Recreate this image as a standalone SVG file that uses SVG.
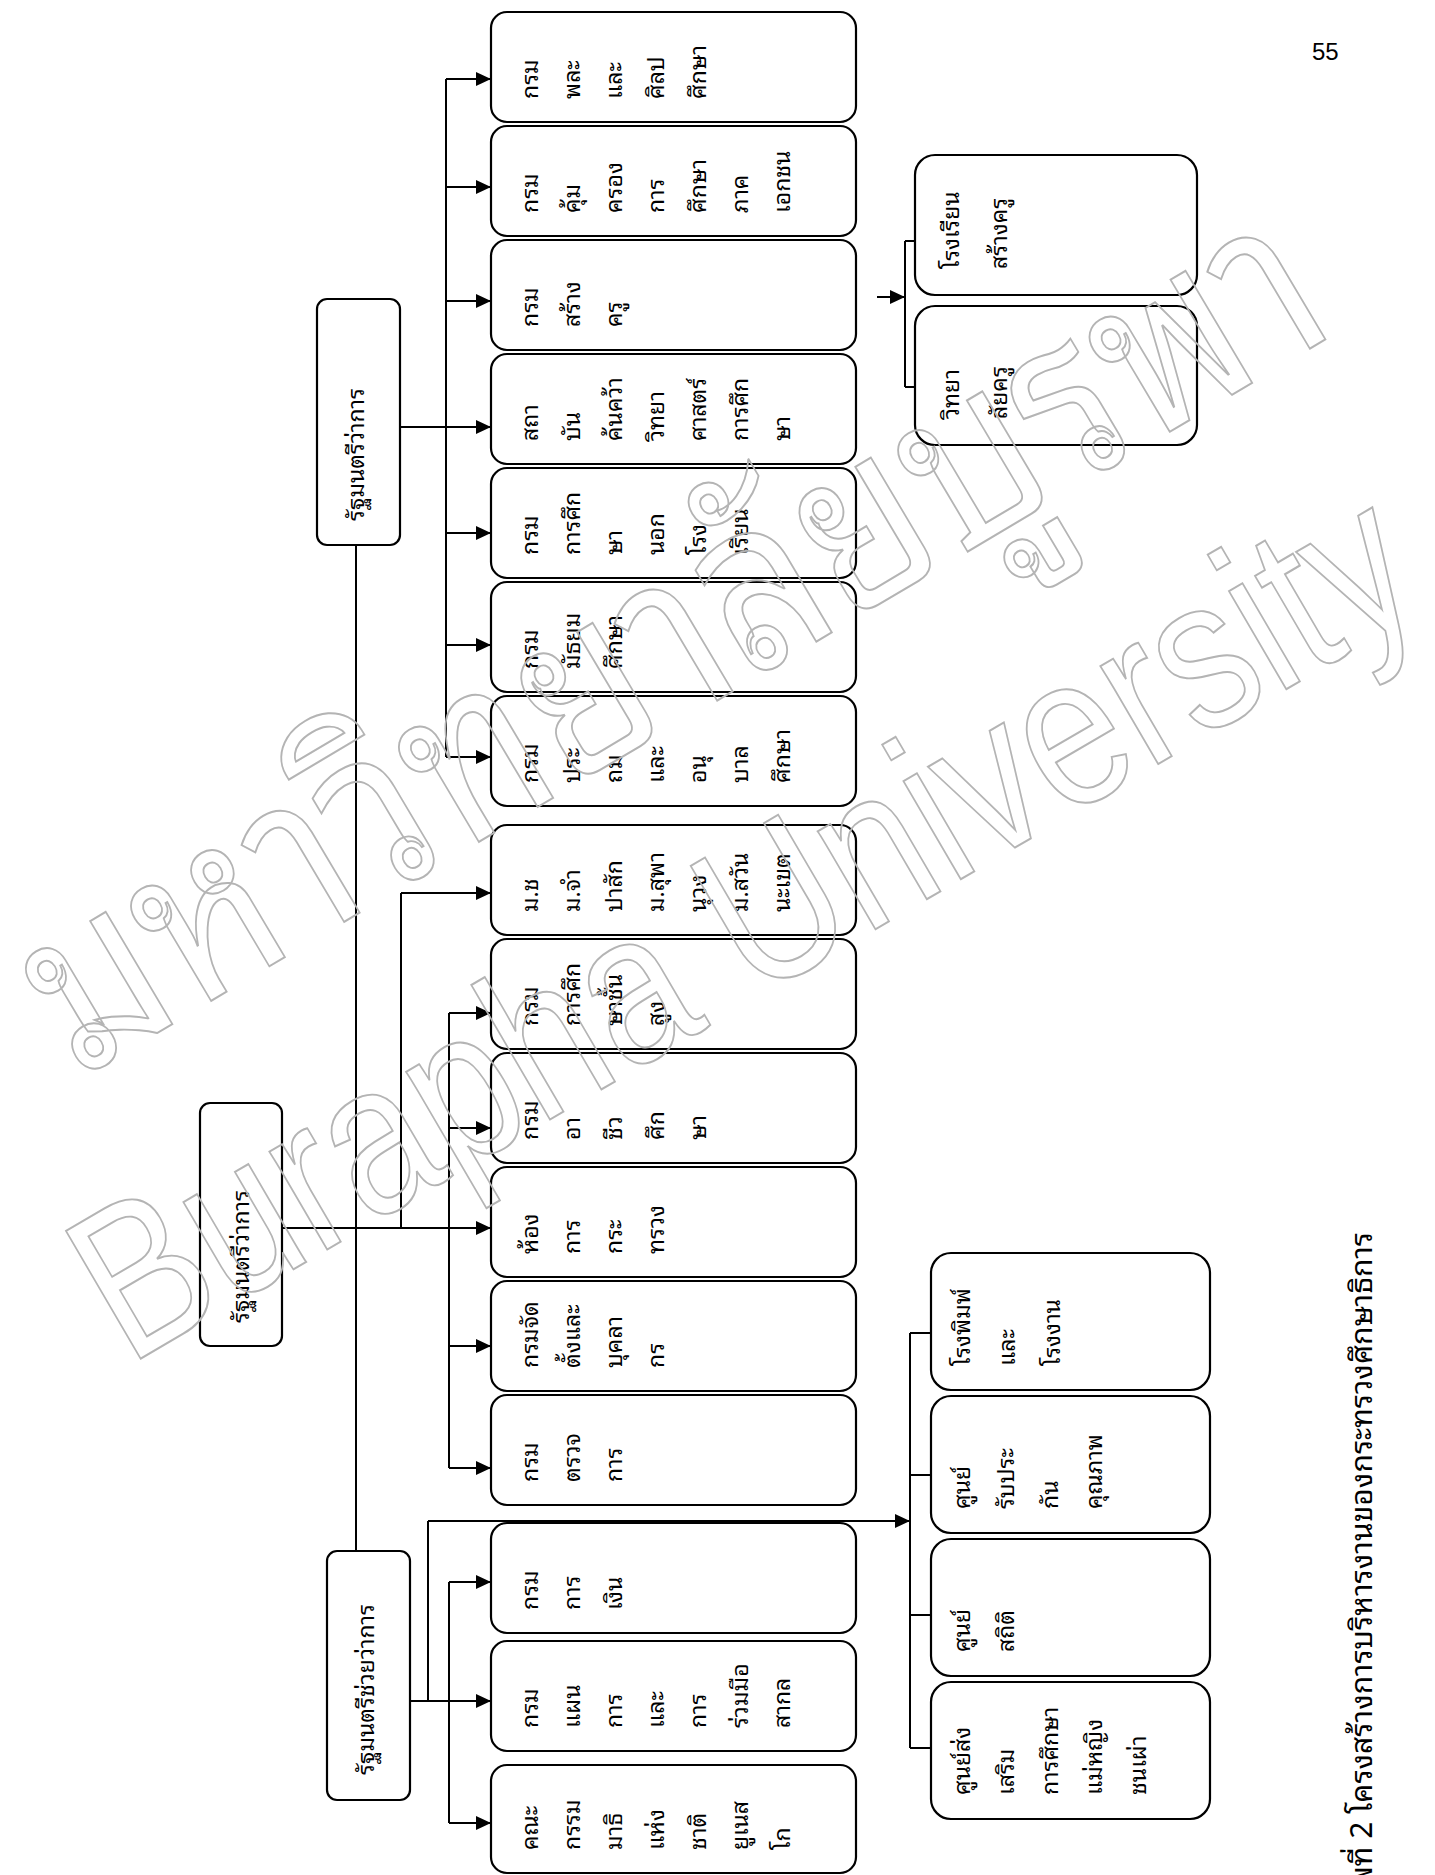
<svg xmlns="http://www.w3.org/2000/svg" width="1435" height="1875" viewBox="0 0 1435 1875">
<style>
.bg{fill:#fff}
.box{fill:#fff;stroke:#000;stroke-width:2.2}
.t{font-family:"Noto Sans Thai Looped","Noto Serif Thai","Noto Sans Thai","Loma","Garuda","Noto Sans",sans-serif;font-size:23px;fill:#000}
.cap{font-family:"Noto Sans Thai Looped","Noto Serif Thai","Noto Sans Thai","Loma","Garuda","Noto Sans",sans-serif;font-size:30px;fill:#000}
.pg{font-family:"Liberation Sans",Arial,sans-serif;font-size:24px;fill:#000}
.ln{stroke:#000;stroke-width:2;fill:none}
.ar{stroke:#000;stroke-width:2;fill:none;marker-end:url(#ah)}
.wm{fill:none;stroke:#b4b4b4;stroke-width:2}
.wme{font-family:"Liberation Sans",Arial,sans-serif;font-size:215px}
.wmt{font-family:"Noto Sans Thai Looped","Noto Serif Thai","Noto Sans Thai","Loma","Garuda","Noto Sans",sans-serif;font-size:235px}
</style>
<defs>
<marker id="ah" markerUnits="userSpaceOnUse" markerWidth="16" markerHeight="14" refX="15" refY="7" orient="auto">
<path d="M0,0 L15,7 L0,14 z" fill="#000"/>
</marker>
</defs>
<rect class="bg" x="0" y="0" width="1435" height="1875"/>

<g id="connectors">
<line class="ln" x1="356" y1="545" x2="356" y2="1551"/>
<line class="ar" x1="400" y1="427" x2="491" y2="427"/>
<line class="ln" x1="446" y1="79" x2="446" y2="757"/>
<line class="ar" x1="446" y1="79" x2="491" y2="79"/>
<line class="ar" x1="446" y1="187" x2="491" y2="187"/>
<line class="ar" x1="446" y1="301" x2="491" y2="301"/>
<line class="ar" x1="446" y1="533" x2="491" y2="533"/>
<line class="ar" x1="446" y1="645" x2="491" y2="645"/>
<line class="ar" x1="446" y1="757" x2="491" y2="757"/>
<line class="ar" x1="282" y1="1228" x2="491" y2="1228"/>
<line class="ln" x1="401" y1="893" x2="401" y2="1228"/>
<line class="ar" x1="401" y1="893" x2="491" y2="893"/>
<line class="ln" x1="449" y1="1013" x2="449" y2="1468"/>
<line class="ar" x1="449" y1="1013" x2="491" y2="1013"/>
<line class="ar" x1="449" y1="1128" x2="491" y2="1128"/>
<line class="ar" x1="449" y1="1346" x2="491" y2="1346"/>
<line class="ar" x1="449" y1="1468" x2="491" y2="1468"/>
<line class="ar" x1="410" y1="1701" x2="491" y2="1701"/>
<line class="ln" x1="428" y1="1521" x2="428" y2="1701"/>
<line class="ar" x1="428" y1="1521" x2="910" y2="1521"/>
<line class="ln" x1="449" y1="1582" x2="449" y2="1823"/>
<line class="ar" x1="449" y1="1582" x2="491" y2="1582"/>
<line class="ar" x1="449" y1="1823" x2="491" y2="1823"/>
<line class="ln" x1="910" y1="1333" x2="910" y2="1748"/>
<line class="ar" x1="910" y1="1333" x2="948" y2="1333"/>
<line class="ar" x1="910" y1="1475" x2="948" y2="1475"/>
<line class="ar" x1="910" y1="1615" x2="948" y2="1615"/>
<line class="ar" x1="910" y1="1748" x2="948" y2="1748"/>
<line class="ar" x1="877" y1="297" x2="905" y2="297"/>
<line class="ln" x1="905" y1="241" x2="905" y2="387"/>
<line class="ar" x1="905" y1="241" x2="937" y2="241"/>
<line class="ar" x1="905" y1="387" x2="937" y2="387"/>
</g>

<g id="m-top"><rect class="box" x="317" y="299" width="83" height="246" rx="10"/>
<text class="t" transform="translate(364,521) rotate(-90)">รัฐมนตรีว่าการ</text></g>
<g id="m-mid"><rect class="box" x="200" y="1103" width="82" height="243" rx="10"/>
<text class="t" transform="translate(249,1323) rotate(-90)">รัฐมนตรีว่าการ</text></g>
<g id="m-vice"><rect class="box" x="327" y="1551" width="83" height="249" rx="10"/>
<text class="t" transform="translate(374,1775) rotate(-90)">รัฐมนตรีช่วยว่าการ</text></g>

<g id="n1"><rect class="box" x="491" y="12" width="365" height="110" rx="16"/>
<text class="t" transform="translate(538,99) rotate(-90)">กรม</text>
<text class="t" transform="translate(580,99) rotate(-90)">พละ</text>
<text class="t" transform="translate(622,99) rotate(-90)">และ</text>
<text class="t" transform="translate(664,99) rotate(-90)">ศิลป</text>
<text class="t" transform="translate(706,99) rotate(-90)">ศึกษา</text></g>
<g id="n2"><rect class="box" x="491" y="126" width="365" height="110" rx="16"/>
<text class="t" transform="translate(538,213) rotate(-90)">กรม</text>
<text class="t" transform="translate(580,213) rotate(-90)">คุ้ม</text>
<text class="t" transform="translate(622,213) rotate(-90)">ครอง</text>
<text class="t" transform="translate(664,213) rotate(-90)">การ</text>
<text class="t" transform="translate(706,213) rotate(-90)">ศึกษา</text>
<text class="t" transform="translate(748,213) rotate(-90)">ภาค</text>
<text class="t" transform="translate(790,213) rotate(-90)">เอกชน</text></g>
<g id="n3"><rect class="box" x="491" y="240" width="365" height="110" rx="16"/>
<text class="t" transform="translate(538,327) rotate(-90)">กรม</text>
<text class="t" transform="translate(580,327) rotate(-90)">สร้าง</text>
<text class="t" transform="translate(622,327) rotate(-90)">ครู</text></g>
<g id="n4"><rect class="box" x="491" y="354" width="365" height="110" rx="16"/>
<text class="t" transform="translate(538,441) rotate(-90)">สถา</text>
<text class="t" transform="translate(580,441) rotate(-90)">บัน</text>
<text class="t" transform="translate(622,441) rotate(-90)">ค้นคว้า</text>
<text class="t" transform="translate(664,441) rotate(-90)">วิทยา</text>
<text class="t" transform="translate(706,441) rotate(-90)">ศาสตร์</text>
<text class="t" transform="translate(748,441) rotate(-90)">การศึก</text>
<text class="t" transform="translate(790,441) rotate(-90)">ษา</text></g>
<g id="n5"><rect class="box" x="491" y="468" width="365" height="110" rx="16"/>
<text class="t" transform="translate(538,555) rotate(-90)">กรม</text>
<text class="t" transform="translate(580,555) rotate(-90)">การศึก</text>
<text class="t" transform="translate(622,555) rotate(-90)">ษา</text>
<text class="t" transform="translate(664,555) rotate(-90)">นอก</text>
<text class="t" transform="translate(706,555) rotate(-90)">โรง</text>
<text class="t" transform="translate(748,555) rotate(-90)">เรียน</text></g>
<g id="n6"><rect class="box" x="491" y="582" width="365" height="110" rx="16"/>
<text class="t" transform="translate(538,669) rotate(-90)">กรม</text>
<text class="t" transform="translate(580,669) rotate(-90)">มัธยม</text>
<text class="t" transform="translate(622,669) rotate(-90)">ศึกษา</text></g>
<g id="n7"><rect class="box" x="491" y="696" width="365" height="110" rx="16"/>
<text class="t" transform="translate(538,783) rotate(-90)">กรม</text>
<text class="t" transform="translate(580,783) rotate(-90)">ประ</text>
<text class="t" transform="translate(622,783) rotate(-90)">ถม</text>
<text class="t" transform="translate(664,783) rotate(-90)">และ</text>
<text class="t" transform="translate(706,783) rotate(-90)">อนุ</text>
<text class="t" transform="translate(748,783) rotate(-90)">บาล</text>
<text class="t" transform="translate(790,783) rotate(-90)">ศึกษา</text></g>

<g id="n8"><rect class="box" x="491" y="825" width="365" height="110" rx="16"/>
<text class="t" transform="translate(538,912) rotate(-90)">ม.ช</text>
<text class="t" transform="translate(580,912) rotate(-90)">ม.จำ</text>
<text class="t" transform="translate(622,912) rotate(-90)">ปาสัก</text>
<text class="t" transform="translate(664,912) rotate(-90)">ม.สุพา</text>
<text class="t" transform="translate(706,912) rotate(-90)">นุวง</text>
<text class="t" transform="translate(748,912) rotate(-90)">ม.สวัน</text>
<text class="t" transform="translate(790,912) rotate(-90)">นะเขต</text></g>
<g id="n9"><rect class="box" x="491" y="939" width="365" height="110" rx="16"/>
<text class="t" transform="translate(538,1026) rotate(-90)">กรม</text>
<text class="t" transform="translate(580,1026) rotate(-90)">การศึก</text>
<text class="t" transform="translate(622,1026) rotate(-90)">ษาชั้น</text>
<text class="t" transform="translate(664,1026) rotate(-90)">สูง</text></g>
<g id="n10"><rect class="box" x="491" y="1053" width="365" height="110" rx="16"/>
<text class="t" transform="translate(538,1140) rotate(-90)">กรม</text>
<text class="t" transform="translate(580,1140) rotate(-90)">อา</text>
<text class="t" transform="translate(622,1140) rotate(-90)">ชีว</text>
<text class="t" transform="translate(664,1140) rotate(-90)">ศึก</text>
<text class="t" transform="translate(706,1140) rotate(-90)">ษา</text></g>
<g id="n11"><rect class="box" x="491" y="1167" width="365" height="110" rx="16"/>
<text class="t" transform="translate(538,1254) rotate(-90)">ห้อง</text>
<text class="t" transform="translate(580,1254) rotate(-90)">การ</text>
<text class="t" transform="translate(622,1254) rotate(-90)">กระ</text>
<text class="t" transform="translate(664,1254) rotate(-90)">ทรวง</text></g>
<g id="n12"><rect class="box" x="491" y="1281" width="365" height="110" rx="16"/>
<text class="t" transform="translate(538,1368) rotate(-90)">กรมจัด</text>
<text class="t" transform="translate(580,1368) rotate(-90)">ตั้งและ</text>
<text class="t" transform="translate(622,1368) rotate(-90)">บุคลา</text>
<text class="t" transform="translate(664,1368) rotate(-90)">กร</text></g>
<g id="n13"><rect class="box" x="491" y="1395" width="365" height="110" rx="16"/>
<text class="t" transform="translate(538,1482) rotate(-90)">กรม</text>
<text class="t" transform="translate(580,1482) rotate(-90)">ตรวจ</text>
<text class="t" transform="translate(622,1482) rotate(-90)">การ</text></g>

<g id="n14"><rect class="box" x="491" y="1523" width="365" height="110" rx="16"/>
<text class="t" transform="translate(538,1610) rotate(-90)">กรม</text>
<text class="t" transform="translate(580,1610) rotate(-90)">การ</text>
<text class="t" transform="translate(622,1610) rotate(-90)">เงิน</text></g>
<g id="n15"><rect class="box" x="491" y="1641" width="365" height="110" rx="16"/>
<text class="t" transform="translate(538,1728) rotate(-90)">กรม</text>
<text class="t" transform="translate(580,1728) rotate(-90)">แผน</text>
<text class="t" transform="translate(622,1728) rotate(-90)">การ</text>
<text class="t" transform="translate(664,1728) rotate(-90)">และ</text>
<text class="t" transform="translate(706,1728) rotate(-90)">การ</text>
<text class="t" transform="translate(748,1728) rotate(-90)">ร่วมมือ</text>
<text class="t" transform="translate(790,1728) rotate(-90)">สากล</text></g>
<g id="n16"><rect class="box" x="491" y="1765" width="365" height="108" rx="16"/>
<text class="t" transform="translate(538,1850) rotate(-90)">คณะ</text>
<text class="t" transform="translate(580,1850) rotate(-90)">กรรม</text>
<text class="t" transform="translate(622,1850) rotate(-90)">มาธิ</text>
<text class="t" transform="translate(664,1850) rotate(-90)">แห่ง</text>
<text class="t" transform="translate(706,1850) rotate(-90)">ชาติ</text>
<text class="t" transform="translate(748,1850) rotate(-90)">ยูเนส</text>
<text class="t" transform="translate(790,1850) rotate(-90)">โก</text></g>

<g id="b1"><rect class="box" x="931" y="1253" width="279" height="137" rx="20"/>
<text class="t" transform="translate(970,1366) rotate(-90)">โรงพิมพ์</text>
<text class="t" transform="translate(1015,1366) rotate(-90)">และ</text>
<text class="t" transform="translate(1060,1366) rotate(-90)">โรงงาน</text></g>
<g id="b2"><rect class="box" x="931" y="1396" width="279" height="137" rx="20"/>
<text class="t" transform="translate(970,1509) rotate(-90)">ศูนย์</text>
<text class="t" transform="translate(1014,1509) rotate(-90)">รับประ</text>
<text class="t" transform="translate(1058,1509) rotate(-90)">กัน</text>
<text class="t" transform="translate(1102,1509) rotate(-90)">คุณภาพ</text></g>
<g id="b3"><rect class="box" x="931" y="1539" width="279" height="137" rx="20"/>
<text class="t" transform="translate(970,1652) rotate(-90)">ศูนย์</text>
<text class="t" transform="translate(1014,1652) rotate(-90)">สถิติ</text></g>
<g id="b4"><rect class="box" x="931" y="1682" width="279" height="137" rx="20"/>
<text class="t" transform="translate(970,1795) rotate(-90)">ศูนย์ส่ง</text>
<text class="t" transform="translate(1014,1795) rotate(-90)">เสริม</text>
<text class="t" transform="translate(1058,1795) rotate(-90)">การศึกษา</text>
<text class="t" transform="translate(1102,1795) rotate(-90)">แม่หญิง</text>
<text class="t" transform="translate(1146,1795) rotate(-90)">ชนเผ่า</text></g>

<g id="r1"><rect class="box" x="915" y="155" width="282" height="140" rx="20"/>
<text class="t" transform="translate(959,269) rotate(-90)">โรงเรียน</text>
<text class="t" transform="translate(1007,269) rotate(-90)">สร้างครู</text></g>
<g id="r2"><rect class="box" x="915" y="306" width="282" height="139" rx="20"/>
<text class="t" transform="translate(959,419) rotate(-90)">วิทยา</text>
<text class="t" transform="translate(1007,419) rotate(-90)">ลัยครู</text></g>

<text class="pg" x="1312" y="60">55</text>
<text class="cap" text-anchor="end" transform="translate(1372,1232) rotate(-90)">ภาพที่ 2  โครงสร้างการบริหารงานของกระทรวงศึกษาธิการ</text>

<g id="watermark" class="wm">
<text class="wmt" transform="translate(78,1080) rotate(-30.7)" textLength="1468" lengthAdjust="spacingAndGlyphs">มหาวิทยาลัยบูรพา</text>
<text class="wme" transform="translate(128,1366) rotate(-30.3)" textLength="1508" lengthAdjust="spacingAndGlyphs">Burapha University</text>
</g>
</svg>
